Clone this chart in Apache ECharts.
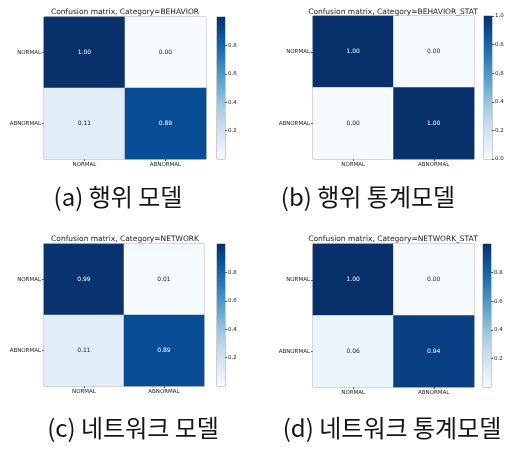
<!DOCTYPE html>
<html><head><meta charset="utf-8">
<script src="https://cdn.jsdelivr.net/npm/echarts@6/dist/echarts.min.js"></script>
<style>html,body{margin:0;padding:0;background:#fff}#c{width:531px;height:450px}</style>
</head><body><div id="c"></div>
<script>
const categories = ['NORMAL', 'ABNORMAL'];
// rows = true label, cols = predicted label
const behavior = [[1.00, 0.00], [0.11, 0.89]];
const behaviorStat = [[1.00, 0.00], [0.00, 1.00]];
const network = [[0.99, 0.01], [0.11, 0.89]];
const networkStat = [[1.00, 0.00], [0.06, 0.94]];
const matrices = [behavior, behaviorStat, network, networkStat];
const titles = ['Confusion matrix, Category=BEHAVIOR', 'Confusion matrix, Category=BEHAVIOR_STAT',
  'Confusion matrix, Category=NETWORK', 'Confusion matrix, Category=NETWORK_STAT'];
const captions = ['(a) 행위 모델', '(b) 행위 통계모델', '(c) 네트워크 모델', '(d) 네트워크 통계모델'];
const colorbarTicks = [0, 0.2, 0.4, 0.6, 0.8, 1.0];
const colorbarShowEnds = [false, true, false, false];

const blues = ['#f7fbff', '#deebf7', '#c6dbef', '#9ecae1', '#6baed6', '#4292c6', '#2171b5', '#08519c', '#08306b'];
const layout = [
  { left: 44, top: 17, width: 162, height: 142, cbLeft: 217, tx: 125, ty: 12, cx: 118, cy: 197 },
  { left: 313, top: 16, width: 161, height: 143, cbLeft: 484, tx: 393, ty: 12, cx: 368, cy: 197 },
  { left: 44, top: 244, width: 160, height: 142, cbLeft: 217, tx: 125, ty: 239, cx: 133, cy: 428 },
  { left: 313, top: 244, width: 161, height: 143, cbLeft: 483, tx: 393, ty: 239, cx: 392, cy: 428 }
];

const grid = [], xAxis = [], yAxis = [], series = [], visualMap = [], graphic = [];
layout.forEach((L, i) => {
  grid.push({ left: L.left, top: L.top, width: L.width, height: L.height, show: true, borderColor: '#9a9a9a', borderWidth: 1, backgroundColor: 'transparent' });
  grid.push({ left: L.cbLeft, top: L.top, width: 8, height: L.height, show: true, borderColor: '#9a9a9a', borderWidth: 1, backgroundColor: 'transparent' });
  const g = i * 2;
  xAxis.push({ gridIndex: g, type: 'category', data: categories, axisLine: { show: false },
    axisTick: { show: true, alignWithLabel: true, length: 2, lineStyle: { color: '#555' } },
    axisLabel: { fontSize: 5.5, color: '#222', margin: 3, fontFamily: 'DejaVu Sans' }, splitLine: { show: false } });
  yAxis.push({ gridIndex: g, type: 'category', data: categories, inverse: true, axisLine: { show: false },
    axisTick: { show: true, alignWithLabel: true, length: 2, lineStyle: { color: '#555' } },
    axisLabel: { fontSize: 5.5, color: '#222', margin: 3, fontFamily: 'DejaVu Sans' }, splitLine: { show: false } });
  xAxis.push({ gridIndex: g + 1, type: 'category', data: ['cb'], show: false });
  yAxis.push({ gridIndex: g + 1, type: 'value', min: colorbarTicks[0], max: colorbarTicks[colorbarTicks.length - 1],
    interval: colorbarTicks[1] - colorbarTicks[0], position: 'right', axisLine: { show: false },
    axisTick: { show: true, length: 2, inside: false, lineStyle: { color: '#555' } },
    axisLabel: { fontSize: 5.5, color: '#222', margin: 3, showMinLabel: colorbarShowEnds[i], showMaxLabel: colorbarShowEnds[i], fontFamily: 'DejaVu Sans', formatter: v => v.toFixed(1) },
    splitLine: { show: false } });
  const m = matrices[i];
  const data = [];
  m.forEach((row, r) => row.forEach((v, c) => {
    data.push({ value: [c, r, v], label: { color: v > 0.5 ? '#ffffff' : '#222222' } });
  }));
  series.push({ type: 'heatmap', xAxisIndex: g, yAxisIndex: g, data: data,
    label: { show: true, fontSize: 6, fontFamily: 'DejaVu Sans', formatter: p => p.value[2].toFixed(2) },
    emphasis: { disabled: true } });
  series.push({ type: 'bar', xAxisIndex: g + 1, yAxisIndex: g + 1, barWidth: '100%', silent: true,
    data: [colorbarTicks[colorbarTicks.length - 1]],
    itemStyle: { color: { type: 'linear', x: 0, y: 1, x2: 0, y2: 0,
      colorStops: blues.map((c, k) => ({ offset: k / (blues.length - 1), color: c })) } } });
  visualMap.push({ type: 'continuous', show: false, seriesIndex: i * 2, min: 0, max: 1, dimension: 2,
    inRange: { color: blues } });
  graphic.push({ type: 'text', x: L.tx, y: L.ty, silent: true,
    style: { text: titles[i], textAlign: 'center', textVerticalAlign: 'middle', fontSize: 7.5, fill: '#222', fontFamily: 'DejaVu Sans' } });
  graphic.push({ type: 'text', x: L.cx, y: L.cy, silent: true,
    style: { text: captions[i], textAlign: 'center', textVerticalAlign: 'middle', fontSize: 24, fill: '#151515', fontFamily: 'Noto Sans CJK KR' } });
});

const chart = echarts.init(document.getElementById('c'), null, { renderer: 'canvas' });
chart.setOption({ animation: false, backgroundColor: '#fff', grid, xAxis, yAxis, series, visualMap, graphic });
</script></body></html>
